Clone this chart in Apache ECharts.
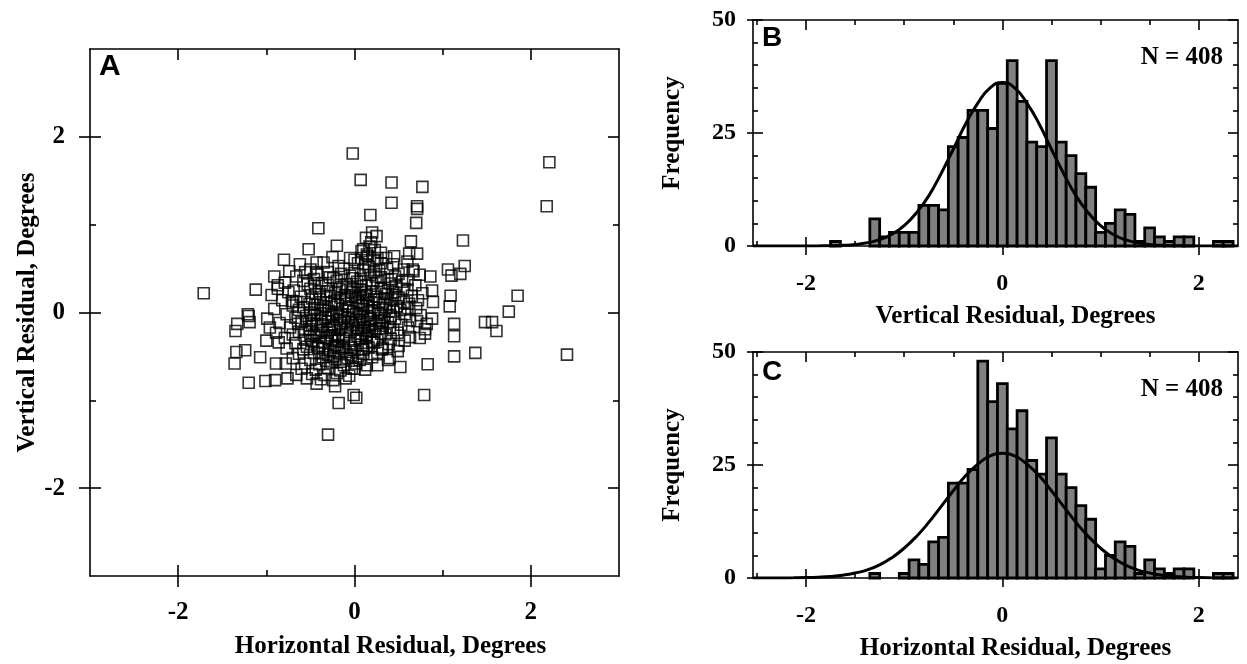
<!DOCTYPE html>
<html>
<head>
<meta charset="utf-8">
<script src="https://cdn.jsdelivr.net/npm/echarts@6.0.0/dist/echarts.min.js"></script>
<style>
  html, body { margin: 0; padding: 0; background: #fff; }
  #chart { width: 1247px; height: 664px; }
</style>
</head>
<body>
<div id="chart"></div>
<script>
// --- 1. Data ---

// Panel A: residual scatter, isolated points
const outlierPoints = [
  [-0.02, 1.81], [2.21, 1.71], [2.18, 1.21], [0.07, 1.51], [0.42, 1.48], [0.77, 1.43],
  [0.42, 1.25], [0.71, 1.21], [0.71, 1.18], [0.70, 1.02], [0.18, 1.11], [-0.41, 0.96],
  [1.23, 0.82], [-0.20, 0.76], [-0.52, 0.72], [-0.80, 0.60], [-0.91, 0.41], [-0.87, 0.31],
  [-1.12, 0.26], [-1.71, 0.22], [0.20, 0.91], [0.13, 0.85], [0.25, 0.87], [0.64, 0.81],
  [0.08, 0.70], [0.14, 0.66], [0.26, 0.62], [0.36, 0.62], [0.62, 0.67], [0.71, 0.67],
  [0.56, 0.49], [0.67, 0.47], [0.86, 0.41], [0.88, 0.25], [1.06, 0.49], [1.10, 0.42],
  [1.20, 0.44], [1.25, 0.53], [1.09, 0.19], [1.08, 0.07], [-0.43, 0.57], [-0.43, 0.46],
  [-0.56, 0.46], [-1.21, -0.02], [-0.75, 0.23], [-0.71, 0.13], [1.85, 0.19], [1.75, 0.01],
  [1.48, -0.11], [1.56, -0.11], [1.61, -0.21], [2.41, -0.48], [1.37, -0.46], [1.13, -0.50],
  [1.13, -0.27], [1.13, -0.13], [0.79, -0.94], [0.83, -0.59], [0.52, -0.62], [0.38, -0.54],
  [0.26, -0.60], [-0.30, -1.39], [-0.18, -1.03], [-0.01, -0.94], [0.02, -0.97], [-1.20, -0.80],
  [-1.01, -0.78], [-0.90, -0.77], [-1.36, -0.58], [-1.34, -0.45], [-1.24, -0.43], [-1.07, -0.51],
  [-0.89, -0.58], [-0.78, -0.58], [-1.35, -0.21], [-1.33, -0.13], [-1.20, -0.04], [-1.19, -0.11],
  [-0.96, -0.17], [-1.00, -0.32], [-0.86, -0.34], [-0.76, -0.75], [-0.66, -0.71], [-0.43, -0.81],
  [-0.54, -0.75], [-0.22, -0.84], [-0.03, -0.64], [0.32, -0.40], [0.50, -0.38], [0.63, -0.28],
  [0.80, -0.24], [0.82, -0.13], [0.88, -0.07], [0.89, 0.12],
]

// Panel A: dense central cloud
const clusterPoints = [
  [-0.62, 0.55], [-0.35, 0.57], [-0.18, 0.53], [0.04, 0.56], [0.16, 0.52], [0.44, 0.55], [0.60, 0.58],
  [-0.74, 0.47], [-0.50, 0.49], [-0.30, 0.46], [-0.12, 0.50], [0.00, 0.45], [0.10, 0.48], [0.22, 0.46],
  [0.37, 0.50], [0.50, 0.44], [0.66, 0.49], [-0.66, 0.41], [-0.42, 0.43], [-0.24, 0.39], [-0.05, 0.42],
  [0.07, 0.38], [0.18, 0.43], [0.30, 0.40], [0.46, 0.41], [0.60, 0.37], [0.74, 0.43], [-0.79, 0.34],
  [-0.58, 0.36], [-0.37, 0.33], [-0.20, 0.36], [-0.09, 0.32], [0.03, 0.35], [0.13, 0.31], [0.26, 0.36],
  [0.40, 0.33], [0.54, 0.35], [0.69, 0.31], [-0.45, 0.30], [-0.14, 0.29], [0.08, 0.30], [0.34, 0.28],
  [-0.87, 0.27], [-0.69, 0.25], [-0.50, 0.27], [-0.31, 0.24], [-0.17, 0.27], [-0.03, 0.23], [0.07, 0.26],
  [0.19, 0.24], [0.30, 0.27], [0.44, 0.23], [0.60, 0.26], [0.77, 0.22], [-0.94, 0.20], [-0.61, 0.18],
  [-0.44, 0.21], [-0.27, 0.19], [-0.11, 0.20], [0.01, 0.17], [0.14, 0.20], [0.25, 0.18], [0.36, 0.21],
  [0.50, 0.17], [0.65, 0.19], [-0.82, 0.14], [-0.57, 0.12], [-0.39, 0.15], [-0.23, 0.13], [-0.09, 0.15],
  [0.05, 0.12], [0.16, 0.14], [0.28, 0.11], [0.42, 0.15], [0.56, 0.12], [0.72, 0.14], [-0.32, 0.17],
  [-0.04, 0.18], [0.10, 0.16], [0.34, 0.16], [-0.70, 0.08], [-0.51, 0.10], [-0.34, 0.07], [-0.19, 0.09],
  [-0.06, 0.06], [0.08, 0.09], [0.20, 0.06], [0.32, 0.09], [0.48, 0.07], [0.62, 0.10], [-0.91, 0.04],
  [-0.63, 0.03], [-0.45, 0.05], [-0.29, 0.02], [-0.14, 0.04], [-0.01, 0.01], [0.10, 0.04], [0.22, 0.02],
  [0.36, 0.05], [0.52, 0.03], [0.70, 0.05], [-0.50, 0.00], [-0.20, 0.00], [0.06, -0.01], [0.30, 0.00],
  [-0.77, -0.02], [-0.55, -0.04], [-0.39, -0.01], [-0.25, -0.03], [-0.11, -0.05], [0.02, -0.02],
  [0.14, -0.04], [0.27, -0.01], [0.41, -0.04], [0.57, -0.02], [0.75, -0.03], [-0.99, -0.07],
  [-0.67, -0.06], [-0.49, -0.09], [-0.33, -0.06], [-0.20, -0.08], [-0.07, -0.06], [0.06, -0.09],
  [0.18, -0.07], [0.31, -0.10], [0.46, -0.07], [0.63, -0.09], [-0.85, -0.12], [-0.60, -0.11],
  [-0.43, -0.13], [-0.30, -0.10], [-0.16, -0.12], [-0.02, -0.14], [0.10, -0.11], [0.24, -0.13],
  [0.38, -0.11], [0.53, -0.14], [0.71, -0.10], [-0.36, -0.15], [-0.08, -0.16], [0.17, -0.15],
  [0.40, -0.17], [-0.73, -0.17], [-0.51, -0.19], [-0.37, -0.20], [-0.23, -0.17], [-0.10, -0.20],
  [0.04, -0.18], [0.15, -0.21], [0.29, -0.18], [0.44, -0.20], [0.61, -0.17], [0.80, -0.19],
  [-0.89, -0.23], [-0.63, -0.22], [-0.46, -0.25], [-0.31, -0.23], [-0.18, -0.26], [-0.05, -0.22],
  [0.08, -0.24], [0.20, -0.22], [0.35, -0.25], [0.49, -0.23], [-0.50, -0.27], [-0.22, -0.28],
  [0.04, -0.27], [-0.79, -0.29], [-0.56, -0.31], [-0.40, -0.28], [-0.26, -0.32], [-0.12, -0.30],
  [0.00, -0.32], [0.13, -0.29], [0.26, -0.31], [0.41, -0.30], [0.57, -0.32], [0.74, -0.29],
  [-0.67, -0.35], [-0.49, -0.36], [-0.34, -0.34], [-0.20, -0.37], [-0.06, -0.35], [0.08, -0.37],
  [0.22, -0.34], [0.39, -0.36], [-0.42, -0.38], [-0.12, -0.39], [0.14, -0.38], [-0.77, -0.41],
  [-0.58, -0.42], [-0.41, -0.40], [-0.28, -0.43], [-0.14, -0.41], [0.00, -0.43], [0.16, -0.40],
  [0.31, -0.42], [0.49, -0.44], [-0.63, -0.47], [-0.46, -0.46], [-0.30, -0.48], [-0.18, -0.46],
  [-0.04, -0.49], [0.10, -0.47], [0.26, -0.46], [-0.70, -0.52], [-0.50, -0.54], [-0.36, -0.51],
  [-0.22, -0.53], [-0.08, -0.52], [0.06, -0.54], [0.20, -0.51], [0.40, -0.52], [-0.56, -0.58],
  [-0.40, -0.59], [-0.26, -0.57], [-0.12, -0.60], [0.02, -0.58], [0.14, -0.60], [-0.60, -0.64],
  [-0.44, -0.65], [-0.30, -0.63], [-0.16, -0.66], [0.00, -0.64], [0.12, -0.65], [-0.48, -0.70],
  [-0.34, -0.71], [-0.20, -0.69], [-0.06, -0.72], [-0.38, -0.76], [-0.24, -0.77], [-0.10, -0.75],
  [0.08, 0.62], [0.15, 0.64], [0.22, 0.60], [0.10, 0.72], [0.17, 0.75], [0.23, 0.71], [0.30, 0.68],
  [0.19, 0.80], [-0.05, 0.62], [-0.25, 0.63], [0.45, 0.64],
]

// Panel A: the darkest core of the cloud
const corePoints = [
  [-0.46, 0.38], [-0.28, 0.40], [-0.02, 0.39], [0.24, 0.41], [0.42, 0.38],
  [-0.53, 0.32], [-0.30, 0.31], [-0.02, 0.28], [0.20, 0.33], [0.47, 0.30],
  [-0.40, 0.24], [-0.22, 0.22], [-0.08, 0.25], [0.12, 0.23], [0.38, 0.25],
  [-0.48, 0.16], [-0.16, 0.17], [0.06, 0.20], [0.22, 0.15], [0.46, 0.20],
  [-0.42, 0.09], [-0.26, 0.11], [-0.10, 0.10], [0.14, 0.08], [0.40, 0.10],
  [-0.58, 0.06], [-0.36, 0.03], [-0.08, 0.02], [0.16, 0.00], [0.44, 0.01],
  [-0.46, -0.03], [-0.30, -0.05], [-0.15, -0.02], [0.08, -0.05], [0.34, -0.06],
  [-0.54, -0.10], [-0.38, -0.08], [-0.12, -0.10], [0.02, -0.08], [0.28, -0.09],
  [-0.48, -0.15], [-0.26, -0.14], [-0.04, -0.11], [0.12, -0.17], [0.32, -0.15],
  [-0.56, -0.20], [-0.28, -0.20], [-0.16, -0.18], [0.10, -0.20], [0.24, -0.19],
  [-0.42, -0.23], [-0.26, -0.26], [-0.10, -0.25], [0.14, -0.26], [0.30, -0.24],
  [-0.48, -0.32], [-0.32, -0.29], [-0.18, -0.32], [0.06, -0.30], [0.20, -0.33],
  [-0.54, -0.39], [-0.36, -0.41], [-0.22, -0.39], [-0.04, -0.40], [0.10, -0.42],
  [-0.40, -0.46], [-0.24, -0.50], [-0.10, -0.45], [0.04, -0.50],
  [-0.32, -0.55], [-0.16, -0.56], [-0.02, -0.55],
  [0.00, 0.60], [0.30, 0.56], [0.12, 0.55], [-0.15, 0.44], [0.28, 0.48], [0.55, 0.27],
  [0.60, 0.05], [-0.70, -0.25], [-0.64, -0.13], [-0.66, 0.12],
]

// Panels B and C: histogram bin centres (bin width 0.1 deg) and counts
const BIN_WIDTH = 0.1
const binCenters = [
  -1.7, -1.6, -1.5, -1.4, -1.3, -1.2, -1.1, -1.0, -0.9, -0.8, -0.7, -0.6, -0.5, -0.4,
  -0.3, -0.2, -0.1, 0, 0.1, 0.2, 0.3, 0.4, 0.5, 0.6, 0.7, 0.8, 0.9, 1.0,
  1.1, 1.2, 1.3, 1.4, 1.5, 1.6, 1.7, 1.8, 1.9, 2.0, 2.1, 2.2, 2.3,
]
const verticalCounts = [
  1, 0, 0, 0, 6, 2, 3, 3, 3, 9, 9, 8, 22, 24,
  30, 30, 26, 36, 41, 32, 23, 22, 41, 23, 20, 16, 13, 3,
  5, 8, 7, 1, 4, 2, 1, 2, 2, 0, 0, 1, 1,
]
const horizontalCounts = [
  0, 0, 0, 0, 1, 0, 0, 1, 4, 3, 8, 9, 21, 21,
  24, 48, 39, 43, 33, 37, 26, 23, 31, 23, 20, 16, 13, 2,
  5, 8, 7, 1, 4, 2, 1, 2, 2, 0, 0, 1, 1,
]

// Normal curves drawn over the histograms
const curveX = [
  -2.54, -2.375, -2.25, -2.125, -2.0, -1.875, -1.75, -1.625, -1.5, -1.375, -1.25, -1.125,
  -1.0, -0.875, -0.75, -0.625, -0.5, -0.375, -0.25, -0.125, 0, 0.125, 0.25, 0.375,
  0.5, 0.625, 0.75, 0.875, 1.0, 1.125, 1.25, 1.375, 1.5, 1.625, 1.75, 1.875,
  2.0, 2.125, 2.25, 2.375, 2.4,
]
const verticalCurve = [
  0, 0, 0, 0, 0, 0.02, 0.06, 0.15, 0.33, 0.7, 1.4, 2.6,
  4.5, 7.35, 11.1, 16.0, 21.4, 27.0, 31.6, 35.0, 36.2, 35.0, 31.6, 27.0,
  21.4, 16.0, 11.1, 7.35, 4.5, 2.6, 1.4, 0.7, 0.33, 0.15, 0.06, 0.02,
  0, 0, 0, 0, 0,
]
const horizontalCurve = [
  0, 0.01, 0.02, 0.04, 0.09, 0.18, 0.34, 0.62, 1.1, 1.8, 2.9, 4.5,
  6.6, 9.2, 12.3, 15.8, 19.3, 22.6, 25.2, 27.0, 27.6, 27.0, 25.2, 22.6,
  19.3, 15.8, 12.3, 9.2, 6.6, 4.5, 2.9, 1.8, 1.1, 0.62, 0.34, 0.18,
  0.09, 0.04, 0.02, 0.01, 0.01,
]

// Tick values
const scatterMajors = [-2, 0, 2]
const scatterMinors = [-1, 1]
const histXMajors = [-2, 0, 2]
const histXMinors = [-2.5, -1.5, -1, -0.5, 0.5, 1, 1.5]
const histYMajors = [0, 25, 50]
const histYMinors = [5, 10, 15, 20, 30, 35, 40, 45]

// --- 2. Helpers ---

const FRAME = { color: '#000', width: 1.6 }
const SERIF = 'Liberation Serif'

/**
 * One frame side pair: labelled outer axis + inner ticks, mirrored inner ticks on the far side
 */
function makeAxes(dim, gridIndex, cfg) {
  const [near, far] = dim === 'x' ? ['bottom', 'top'] : ['left', 'right']
  const base = {
    gridIndex,
    type: 'value',
    min: cfg.min,
    max: cfg.max,
    splitLine: { show: false },
    axisLine: { show: false, onZero: false },
    axisLabel: { show: false },
    axisTick: { show: false },
  }
  const ticks = (inside, length, values) => ({
    show: true, inside, length, customValues: values, lineStyle: FRAME,
  })
  return [
    {
      ...base,
      position: near,
      axisLine: { show: true, onZero: false, lineStyle: FRAME },
      axisTick: ticks(false, cfg.outLen, cfg.majors),
      axisLabel: {
        show: true,
        customValues: cfg.majors,
        margin: cfg.labelMargin,
        color: '#000',
        fontFamily: SERIF,
        fontWeight: 'bold',
        fontSize: cfg.labelSize,
      },
      name: cfg.name,
      nameLocation: 'middle',
      nameGap: cfg.nameGap,
      nameRotate: dim === 'y' ? 90 : 0,
      nameTextStyle: {
        color: '#000',
        fontFamily: SERIF,
        fontWeight: 'bold',
        fontSize: 25,
        padding: cfg.namePad || 0,
      },
    },
    { ...base, position: near, axisTick: ticks(true, cfg.inLen, cfg.majors) },
    { ...base, position: near, axisTick: ticks(true, cfg.minLen, cfg.minors) },
    {
      ...base,
      position: far,
      axisLine: { show: true, onZero: false, lineStyle: FRAME },
      axisTick: ticks(true, cfg.farLen, cfg.majors),
    },
    { ...base, position: far, axisTick: ticks(true, cfg.minLen, cfg.minors) },
  ]
}

const histXCfg = (name) => ({
  min: -2.54, max: 2.4, majors: histXMajors, minors: histXMinors,
  outLen: 9, inLen: 9, farLen: 10, minLen: 5,
  labelSize: 24, labelMargin: 26, name, nameGap: 58, namePad: [0, 0, 0, 40],
})
const histYCfg = {
  min: 0, max: 50, majors: histYMajors, minors: histYMinors,
  outLen: 6, inLen: 10, farLen: 10, minLen: 5,
  labelSize: 24, labelMargin: 17, name: 'Frequency', nameGap: 68,
}

const histBars = (xi, counts) => ({
  type: 'custom',
  xAxisIndex: xi,
  yAxisIndex: xi,
  data: binCenters.map((c, i) => [c, counts[i]]).filter((d) => d[1] > 0),
  encode: { x: 0, y: 1 },
  renderItem: (params, api) => {
    const c = api.value(0)
    const top = api.coord([c - BIN_WIDTH / 2, api.value(1)])
    const bottom = api.coord([c + BIN_WIDTH / 2, 0])
    return {
      type: 'rect',
      shape: { x: top[0], y: top[1], width: bottom[0] - top[0], height: bottom[1] - top[1] },
      style: { fill: '#808080', stroke: '#000', lineWidth: 2.8 },
    }
  },
  z: 2,
})

const fitCurve = (xi, values) => ({
  type: 'line',
  xAxisIndex: xi,
  yAxisIndex: xi,
  data: curveX.map((x, i) => [x, values[i]]),
  smooth: true,
  symbol: 'none',
  lineStyle: { color: '#000', width: 3 },
  z: 3,
})

const panelLetter = (text, left, top, size) => ({
  text, left, top, padding: 0,
  textStyle: { fontFamily: 'Liberation Sans', fontWeight: 'bold', fontSize: size, color: '#000' },
})
const countNote = (top) => ({
  text: 'N = 408', right: 24, top, padding: 0,
  textStyle: { fontFamily: SERIF, fontWeight: 'bold', fontSize: 25, color: '#000' },
})

// --- 3. Chart ---

const scatterCfg = {
  min: -3, max: 3, majors: scatterMajors, minors: scatterMinors,
  outLen: 11, inLen: 11, farLen: 11, minLen: 6, labelSize: 25,
}

const option = {
  animation: false,
  backgroundColor: '#fff',
  title: [
    panelLetter('A', 99, 52, 30),
    panelLetter('B', 762, 24, 28),
    panelLetter('C', 762, 358, 28),
    countNote(45),
    countNote(377),
  ],
  grid: [
    { left: 90, top: 49, width: 529, height: 529 },
    { left: 753, top: 20, width: 485, height: 226 },
    { left: 753, top: 352, width: 485, height: 226 },
  ],
  xAxis: [
    ...makeAxes('x', 0, {
      ...scatterCfg, labelMargin: 24,
      name: 'Horizontal Residual, Degrees', nameGap: 58, namePad: [0, 0, 0, 72],
    }),
    ...makeAxes('x', 1, histXCfg('Vertical Residual, Degrees')),
    ...makeAxes('x', 2, histXCfg('Horizontal Residual, Degrees')),
  ],
  yAxis: [
    ...makeAxes('y', 0, {
      ...scatterCfg, labelMargin: 25,
      name: 'Vertical Residual, Degrees', nameGap: 47,
    }),
    ...makeAxes('y', 1, histYCfg),
    ...makeAxes('y', 2, histYCfg),
  ],
  series: [
    {
      type: 'scatter',
      xAxisIndex: 0,
      yAxisIndex: 0,
      data: [...outlierPoints, ...clusterPoints, ...corePoints],
      symbol: 'rect',
      symbolSize: 11,
      itemStyle: { color: 'rgba(0,0,0,0)', borderColor: '#000', borderWidth: 1.6 },
    },
    histBars(5, verticalCounts),
    fitCurve(5, verticalCurve),
    histBars(10, horizontalCounts),
    fitCurve(10, horizontalCurve),
  ],
}

const chart = echarts.init(document.getElementById('chart'))
chart.setOption(option)

window.addEventListener('resize', () => chart.resize())
</script>
</body>
</html>
